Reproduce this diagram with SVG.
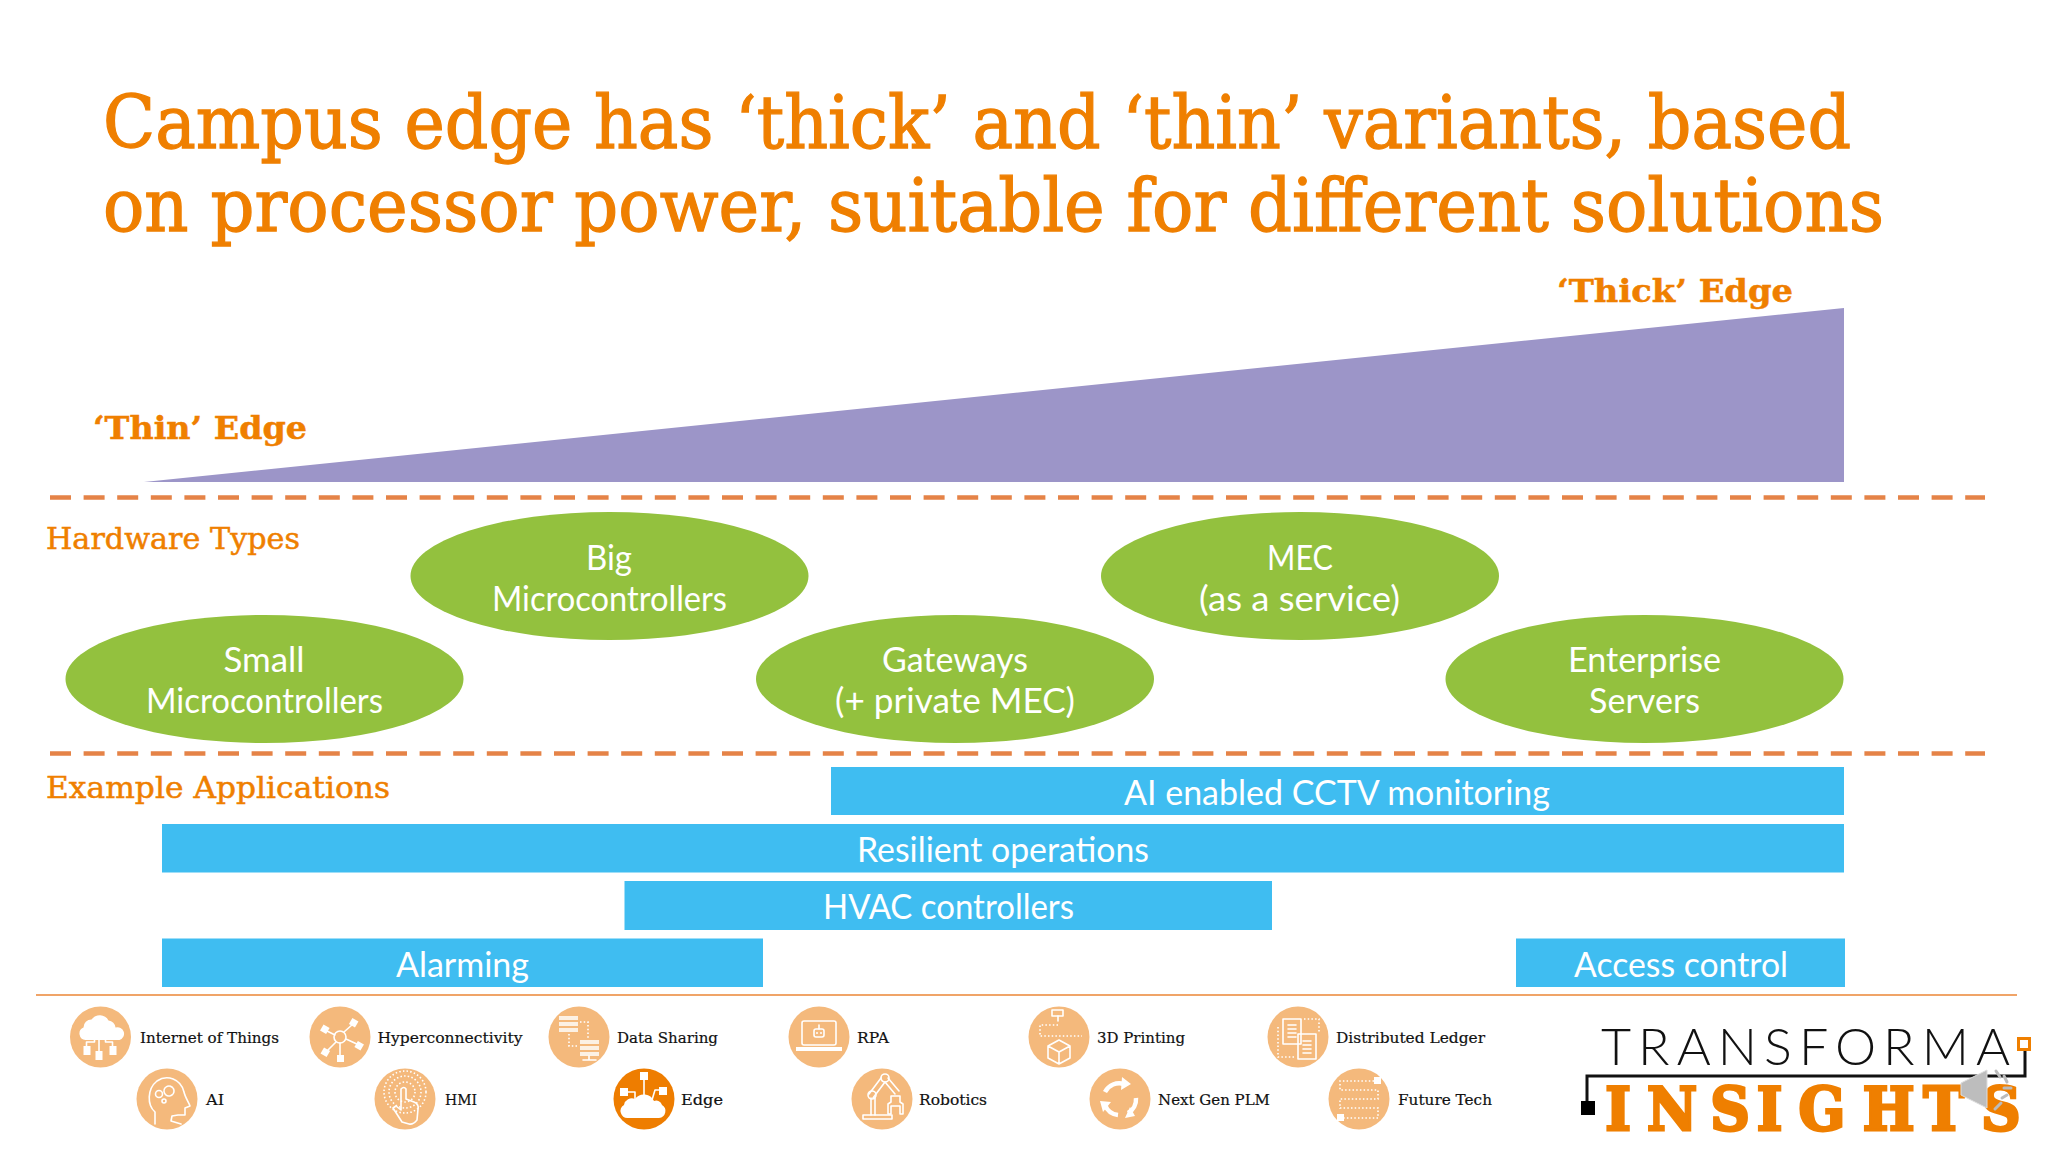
<svg xmlns="http://www.w3.org/2000/svg" width="2048" height="1152" viewBox="0 0 2048 1152">
<style>
text{white-space:pre}
.slab{font-family:"DejaVu Serif","Liberation Serif",serif;fill:#EF7F00;stroke:#EF7F00}
.title{font-size:72px;stroke-width:1.3px}
.edge{font-size:32px;font-weight:bold;stroke-width:.5px}
.sec{font-size:29px;stroke-width:.5px}
.h{font-family:Lato,"Open Sans",sans-serif;font-size:35px;fill:#fff;text-anchor:middle}
.bar{fill:#3FBDF1}
.ell{fill:#93C13E}
.dash{stroke:#E58347;stroke-width:4.5;stroke-dasharray:21 12.6;fill:none}
.disc{fill:#F4B97C}
.lab{font-family:"DejaVu Serif","Liberation Serif",serif;font-size:15.5px;fill:#111;stroke:#111;stroke-width:.2px}
.w{fill:none;stroke:#fff;stroke-width:1.6;stroke-linejoin:round;stroke-linecap:round}
.wd{fill:none;stroke:#fff;stroke-width:1.6;stroke-dasharray:1.5 2.2}
.f{fill:#fff}
</style>
<rect width="2048" height="1152" fill="#fff"/>

<g id="title">
<text class="slab title" x="103" y="148" textLength="1748" lengthAdjust="spacingAndGlyphs">Campus edge has ‘thick’ and ‘thin’ variants, based</text>
<text class="slab title" x="103" y="231" textLength="1781" lengthAdjust="spacingAndGlyphs">on processor power, suitable for different solutions</text>
</g>

<g id="wedge">
<polygon points="144,482 1844,308 1844,482" fill="#9C95C8"/>
<text class="slab edge" x="1557" y="302" textLength="236" lengthAdjust="spacingAndGlyphs">‘Thick’ Edge</text>
<text class="slab edge" x="93" y="439" textLength="214" lengthAdjust="spacingAndGlyphs">‘Thin’ Edge</text>
</g>

<g id="connectors">
<line class="dash" x1="50" y1="497.5" x2="1985" y2="497.5"/>
<line class="dash" x1="50" y1="753.5" x2="1985" y2="753.5"/>
<line x1="36" y1="995" x2="2017" y2="995" stroke="#F0A468" stroke-width="2"/>
</g>

<text class="slab sec" x="46" y="549" textLength="254" lengthAdjust="spacingAndGlyphs">Hardware Types</text>
<text class="slab sec" x="46" y="798" textLength="344" lengthAdjust="spacingAndGlyphs">Example Applications</text>

<g id="hw-small"><ellipse class="ell" cx="264.5" cy="679" rx="199" ry="64"/>
<text class="h" x="264" y="672" textLength="81" lengthAdjust="spacingAndGlyphs">Small</text><text class="h" x="264.5" y="713" textLength="237" lengthAdjust="spacingAndGlyphs">Microcontrollers</text></g>
<g id="hw-big"><ellipse class="ell" cx="609.500" cy="576" rx="199" ry="64"/>
<text class="h" x="609" y="570" textLength="46" lengthAdjust="spacingAndGlyphs">Big</text><text class="h" x="609.5" y="611" textLength="235" lengthAdjust="spacingAndGlyphs">Microcontrollers</text></g>
<g id="hw-gateways"><ellipse class="ell" cx="955" cy="679" rx="199" ry="64"/>
<text class="h" x="955" y="672" textLength="146" lengthAdjust="spacingAndGlyphs">Gateways</text><text class="h" x="955" y="713" textLength="240" lengthAdjust="spacingAndGlyphs">(+ private MEC)</text></g>
<g id="hw-mec"><ellipse class="ell" cx="1300" cy="576" rx="199" ry="64"/>
<text class="h" x="1300" y="570" textLength="66" lengthAdjust="spacingAndGlyphs">MEC</text><text class="h" x="1299.5" y="611" textLength="201" lengthAdjust="spacingAndGlyphs">(as a service)</text></g>
<g id="hw-enterprise"><ellipse class="ell" cx="1644.500" cy="679" rx="199" ry="64"/>
<text class="h" x="1644.5" y="672" textLength="153" lengthAdjust="spacingAndGlyphs">Enterprise</text><text class="h" x="1644.5" y="713" textLength="111" lengthAdjust="spacingAndGlyphs">Servers</text></g>

<g id="app-cctv"><rect class="bar" x="831" y="767" width="1013" height="48"/><text class="h" x="1337" y="805" textLength="426" lengthAdjust="spacingAndGlyphs">AI enabled CCTV monitoring</text></g>
<g id="app-resilient"><rect class="bar" x="162" y="824" width="1682" height="48.5"/><text class="h" x="1003" y="862" textLength="292" lengthAdjust="spacingAndGlyphs">Resilient operations</text></g>
<g id="app-hvac"><rect class="bar" x="624.500" y="881" width="647.500" height="49"/><text class="h" x="948.5" y="919" textLength="251" lengthAdjust="spacingAndGlyphs">HVAC controllers</text></g>
<g id="app-alarming"><rect class="bar" x="162" y="938.500" width="601" height="48.500"/><text class="h" x="462.5" y="977" textLength="133" lengthAdjust="spacingAndGlyphs">Alarming</text></g>
<g id="app-access"><rect class="bar" x="1516" y="938.500" width="329" height="48.500"/><text class="h" x="1681" y="977" textLength="214" lengthAdjust="spacingAndGlyphs">Access control</text></g>

<g id="icon-iot"><circle class="disc" cx="100.5" cy="1037" r="30.5"/>
<g transform="translate(100.5 1037)"><path class="f" d="M-15 3a6.5 6.5 0 0 1-2-12.500a8 8 0 0 1 8-8a10 10 0 0 1 17 1a7.500 7.500 0 0 1 7 7a6.500 6.500 0 0 1 4 12.500z"/><path class="w" d="M-14 9V5H-6V3M-1.500 14V3M12 9V5H5V3"/><rect class="f" x="-17" y="9" width="7" height="9"/><rect class="f" x="-5" y="14" width="7" height="9"/><rect class="f" x="9" y="9" width="7" height="9"/></g>
<text class="lab" x="140" y="1043" textLength="139" lengthAdjust="spacingAndGlyphs">Internet of Things</text></g>

<g id="icon-hyper"><circle class="disc" cx="340" cy="1037" r="30.5"/>
<g transform="translate(340 1037)"><circle class="w" r="6"/><path class="w" d="M-5-2-15-7M4-5 13-13M6 2 19 8M-4 5-14 15M0 6V20"/><g class="f"><rect x="-19" y="-11" width="7" height="7" transform="rotate(30 -15 -7)"/><rect x="10" y="-18" width="7" height="7" transform="rotate(30 13 -14)"/><rect x="16" y="5" width="7" height="7" transform="rotate(30 19 8)"/><rect x="-18" y="12" width="7" height="7" transform="rotate(30 -14 15)"/><rect x="-3" y="18" width="7" height="7"/></g></g>
<text class="lab" x="377.500" y="1043" textLength="145" lengthAdjust="spacingAndGlyphs">Hyperconnectivity</text></g>

<g id="icon-data"><circle class="disc" cx="579" cy="1037" r="30.5"/>
<g transform="translate(579 1037)"><g class="f" opacity=".8"><rect x="-20" y="-21" width="19" height="4"/><rect x="-20" y="-15" width="19" height="4"/><rect x="-20" y="-9" width="19" height="4"/><rect x="1" y="3" width="19" height="4"/><rect x="1" y="9" width="19" height="4"/><rect x="1" y="15" width="19" height="4"/></g><path class="wd" d="M1-15H9V2M-10-3V9H0"/><path class="w" d="M10 19V23M4 23H17"/></g>
<text class="lab" x="617" y="1043" textLength="101" lengthAdjust="spacingAndGlyphs">Data Sharing</text></g>

<g id="icon-rpa"><circle class="disc" cx="819" cy="1037" r="30.5"/>
<g transform="translate(819 1037)"><rect class="w" x="-17" y="-16" width="34" height="24" rx="2"/><rect class="f" x="-23" y="10" width="46" height="4"/><rect class="w" x="-5" y="-8" width="10" height="8" rx="2"/><path class="w" d="M0-8V-12"/><circle class="f" cx="-2" cy="-4" r="1"/><circle class="f" cx="2" cy="-4" r="1"/></g>
<text class="lab" x="857" y="1043" textLength="32" lengthAdjust="spacingAndGlyphs">RPA</text></g>

<g id="icon-3d"><circle class="disc" cx="1059" cy="1037" r="30.5"/>
<g transform="translate(1059 1037)"><rect class="w" x="-7" y="-27" width="11" height="6"/><path class="w" d="M-1-21V-16"/><path class="wd" d="M-1-12H-19V-1H23"/><path class="w" d="M0 3 11 9V21L0 27-11 21V9ZM-11 9 0 15 11 9M0 15V27"/></g>
<text class="lab" x="1097" y="1043" textLength="88" lengthAdjust="spacingAndGlyphs">3D Printing</text></g>

<g id="icon-ledger"><circle class="disc" cx="1298" cy="1037" r="30.5"/>
<g transform="translate(1298 1037)"><rect class="w" x="-15" y="-18" width="18" height="25"/><rect class="w" x="0" y="-3" width="18" height="25"/><path class="w" d="M-10-12H-2M-10-8H-2M-10-4H-2M-10 0H-2M5 4H13M5 8H13M5 12H13M5 16H13" stroke-width="1"/><path class="wd" d="M6-18H21V-4M-4 20H-20V-12"/></g>
<text class="lab" x="1336" y="1043" textLength="149" lengthAdjust="spacingAndGlyphs">Distributed Ledger</text></g>

<g id="icon-ai"><circle class="disc" cx="167" cy="1099" r="30.5"/>
<g transform="translate(167 1099)"><path class="w" d="M-12 25V13C-20 6-20-10-10-18C0-25 14-20 17-7C18-2 22 4 23 7L18 9V16H11L5 17 4 22 14 25"/><circle class="w" cx="2" cy="-8" r="5" stroke-dasharray="3 1"/><circle class="w" cx="-8" cy="-5" r="3.500"/><circle class="w" cx="-3" cy="2" r="2"/></g>
<text class="lab" x="206" y="1105" textLength="18" lengthAdjust="spacingAndGlyphs">AI</text></g>

<g id="icon-hmi"><circle class="disc" cx="405" cy="1099" r="30.5"/>
<g transform="translate(405 1099)"><circle class="wd" cy="-7" r="10"/><circle class="wd" cy="-7" r="16"/><circle class="wd" cy="-7" r="21"/><path class="w" d="M-3 23-12 9-9 7-4 11V-10Q-1-13 1-10V0L9 3Q14 5 13 10L12 21Q8 26 4 25Z" fill="#F4B97C"/></g>
<text class="lab" x="445" y="1105" textLength="32" lengthAdjust="spacingAndGlyphs">HMI</text></g>

<g id="icon-edge"><circle cx="644" cy="1099" r="30.5" fill="#EE7D00"/>
<g transform="translate(644 1099)"><path class="f" d="M-16 19a7 7 0 0 1-4-13a8 8 0 0 1 11-6a11 11 0 0 1 19 2a6 6 0 0 1 8 4a7 7 0 0 1-3 13z"/><path class="w" d="M-17-7H-9V0M0-20V-4M17-9H11L8 1"/><rect class="f" x="-24" y="-11" width="8" height="8"/><rect class="f" x="-4" y="-27" width="8" height="8"/><rect class="f" x="15" y="-12" width="8" height="8"/></g>
<text class="lab" x="681" y="1105" textLength="42" lengthAdjust="spacingAndGlyphs">Edge</text></g>

<g id="icon-robotics"><circle class="disc" cx="882" cy="1099" r="30.5"/>
<g transform="translate(882 1099)"><rect class="w" x="-19" y="16" width="29" height="4"/><path class="w" d="M-11 16V-1M-7 16V-1M-13-5-1-21M-9-1 3-17M3-17 13-5M6-21 17-8"/><circle class="w" cx="-10" cy="-4" r="4"/><circle class="w" cx="3" cy="-21" r="4"/><path class="w" d="M9-3H18V3L21 5V15H18V7H9V15H6V5L9 3Z"/></g>
<text class="lab" x="919" y="1105" textLength="68" lengthAdjust="spacingAndGlyphs">Robotics</text></g>

<g id="icon-plm"><circle class="disc" cx="1120" cy="1099" r="30.5"/>
<g transform="translate(1120 1099)" fill="none" stroke="#fff" stroke-width="4.500"><path d="M-15-7A16 16 0 0 1 4-15"/><path d="M16-1A16 16 0 0 1 8 14"/><path d="M-2 16A16 16 0 0 1-15 6"/></g>
<g transform="translate(1120 1099)"><path d="M2-22 11-15 1-9ZM15 17 5 19 10 8ZM-20 2-9 3-17 13Z" fill="#fff"/></g>
<text class="lab" x="1158" y="1105" textLength="112" lengthAdjust="spacingAndGlyphs">Next Gen PLM</text></g>

<g id="icon-future"><circle class="disc" cx="1359" cy="1099" r="30.5"/>
<g transform="translate(1359 1099)"><path class="wd" d="M15-18H-19V-9H19V0H-19V9H19V19H-15"/><rect class="f" x="15" y="-22" width="7" height="7"/><rect class="f" x="-22" y="15" width="7" height="7"/></g>
<text class="lab" x="1398" y="1105" textLength="94" lengthAdjust="spacingAndGlyphs">Future Tech</text></g>

<g id="logo">
<text x="1601" y="1065" font-family="Lato,sans-serif" font-weight="300" font-size="52" fill="#111" textLength="409">TRANSFORMA</text>
<path d="M1587 1102V1076H2025V1048" fill="none" stroke="#111" stroke-width="3"/>
<rect x="1581" y="1101" width="14" height="14" fill="#000"/>
<rect x="2018.500" y="1038.500" width="11" height="11" fill="#fff" stroke="#EF7F00" stroke-width="3"/>
<text transform="scale(.93 1)" x="1726 1771 1839 1889 1934 2003 2068 2130" y="1130" font-family="DejaVu Serif,serif" font-weight="bold" font-size="59" fill="#EF7F00" stroke="#EF7F00" stroke-width="3">INSIGHTS</text>
</g>

<g id="speaker">
<path d="M1961 1083 1987 1070V1108L1961 1095Z" fill="#BDBDBD" stroke="#ddd" stroke-width="1"/>
<path d="M1996 1071 2000 1077M2004 1076 2007 1082M2004 1088H2011M2002 1098 2007 1095M1995 1109 2001 1103" stroke="#bbb" stroke-width="3" stroke-linecap="round" fill="none"/>
</g>
</svg>
